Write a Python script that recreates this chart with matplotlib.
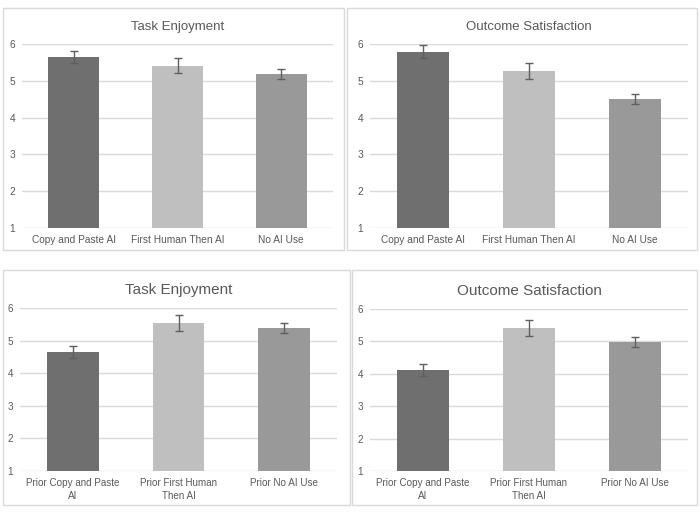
import matplotlib.pyplot as plt
import matplotlib.patches as mpatches
import numpy as np

plt.rcParams['font.family'] = ['Liberation Sans', 'DejaVu Sans']

# top row: conditions
cats_top = ['Copy and Paste AI', 'First Human Then AI', 'No AI Use']
enjoy_top = [5.65, 5.41, 5.18]
enjoy_top_err = [0.17, 0.21, 0.14]
satis_top = [5.79, 5.27, 4.51]
satis_top_err = [0.17, 0.22, 0.14]

# bottom row: prior conditions
cats_bot = ['Prior Copy and Paste\nAI', 'Prior First Human\nThen AI', 'Prior No AI Use']
enjoy_bot = [4.65, 5.54, 5.38]
enjoy_bot_err = [0.19, 0.25, 0.16]
satis_bot = [4.11, 5.41, 4.98]
satis_bot_err = [0.19, 0.25, 0.16]

colors = ['#6f6f6f', '#bfbfbf', '#999999']
txt = '#595959'
grid = '#d9d9d9'

W, H = 700, 525
fig = plt.figure(figsize=(7, 5.25), dpi=100)

# panel frames (left, top, right, bottom in pixels)
frames = [(3, 8, 344, 250), (347, 8, 697, 250), (3, 270, 350, 505), (352, 270, 697, 505)]
for l, t, r, b in frames:
    fig.patches.append(mpatches.Rectangle((l / W, 1 - b / H), (r - l) / W, (b - t) / H,
                                          transform=fig.transFigure, fill=False,
                                          edgecolor='#d9d9d9', linewidth=1))

# axes boxes in pixels (left, top y=6, right, bottom y=1)
boxes = [(22, 44, 333, 228), (370, 44, 688, 228), (20, 308, 337, 471), (370, 309, 688, 471)]
panels = [
    ('Task Enjoyment', cats_top, enjoy_top, enjoy_top_err, 9.5, 7.3),
    ('Outcome Satisfaction', cats_top, satis_top, satis_top_err, 9.5, 7.3),
    ('Task Enjoyment', cats_bot, enjoy_bot, enjoy_bot_err, 11, 7.1),
    ('Outcome Satisfaction', cats_bot, satis_bot, satis_bot_err, 11, 7.1),
]

for (l, t, r, b), (title, cats, vals, errs, tsize, lsize) in zip(boxes, panels):
    ax = fig.add_axes([l / W, 1 - b / H, (r - l) / W, (b - t) / H])
    x = np.arange(len(cats))
    ax.bar(x, np.array(vals) - 1, bottom=1, width=0.49, color=colors, zorder=2)
    ax.errorbar(x, vals, yerr=errs, fmt='none', ecolor='#5f5f5f', elinewidth=1,
                capsize=3, capthick=1, zorder=3, clip_on=False)
    ax.set_xlim(-0.5, 2.5)
    ax.set_ylim(1, 6)
    ax.set_yticks([1, 2, 3, 4, 5, 6])
    ax.set_xticks(x)
    ax.set_xticklabels(cats, linespacing=1.35)
    ax.yaxis.grid(True, color=grid, linewidth=1, zorder=0)
    ax.set_axisbelow(True)
    for s in ax.spines.values():
        s.set_visible(False)
    ax.tick_params(length=0, labelsize=lsize, colors=txt, pad=5)
    ax.set_title(title, fontsize=tsize, color=txt, pad=10)

fig.savefig('out.png', dpi=100)
